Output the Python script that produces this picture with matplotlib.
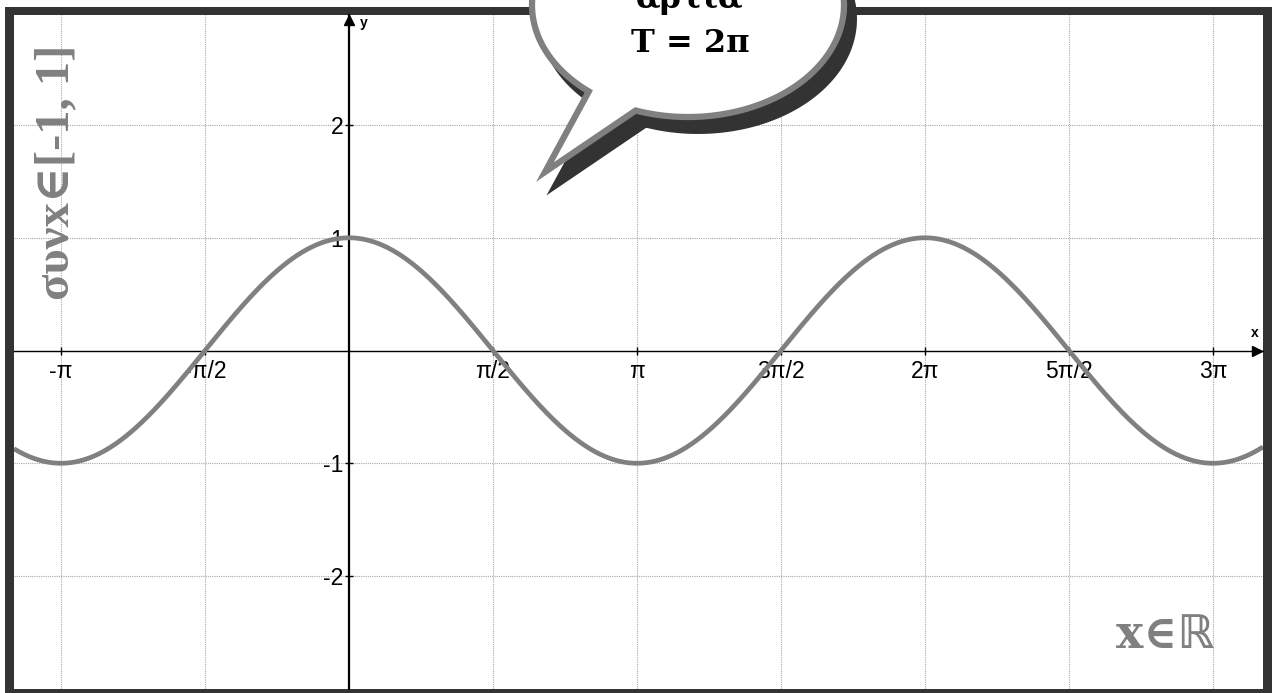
import numpy as np
import matplotlib
matplotlib.use("Agg")
import matplotlib.pyplot as plt
from matplotlib.patches import Rectangle, Polygon
from matplotlib.transforms import Affine2D

plt.rcParams['axes.unicode_minus'] = False

# window of the graph
x_left, x_right = -3.654, 9.970
y_bottom, y_top = -3.002, 2.976

x_ticks = [-np.pi, -np.pi/2, np.pi/2, np.pi, 3*np.pi/2, 2*np.pi, 5*np.pi/2, 3*np.pi]
x_tick_labels = ['-π', '-π/2', 'π/2', 'π', '3π/2', '2π', '5π/2', '3π']
x_grid = [k*np.pi/2 for k in range(-2, 7)]
y_ticks = [-2, -1, 1, 2]
y_tick_labels = ['-2', '-1', '1', '2']
y_grid = [-2, -1, 0, 1, 2]

bubble_lines = ['άρτια', 'T = 2π']
y_caption = 'συνx∈[-1, 1]'
x_caption = 'x∈ℝ'

W, H = 1272, 693
fig = plt.figure(figsize=(W/100, H/100), dpi=100)
fig.patch.set_facecolor('white')

# pixel coords, origin top-left
px = Affine2D().scale(0.01, -0.01).translate(0, H/100) + fig.dpi_scale_trans

# dark frame
frame = Rectangle((5, 7), 1267, 686, transform=px, facecolor='#333333',
                  edgecolor='none', zorder=-1)
fig.add_artist(frame)

ax = fig.add_axes([14/W, 4/H, 1249/W, 674/H])
ax.set_facecolor('white')
ax.set_xlim(x_left, x_right)
ax.set_ylim(y_bottom, y_top)

for s in ['top', 'right']:
    ax.spines[s].set_visible(False)
ax.spines['left'].set_position('zero')
ax.spines['bottom'].set_position('zero')
ax.spines['left'].set_linewidth(1.6)
ax.spines['bottom'].set_linewidth(1.0)

for gx in x_grid:
    ax.axvline(gx, color='#a8a8a8', lw=0.8, ls=(0, (1, 1)), zorder=0)
for gy in y_grid:
    ax.axhline(gy, color='#a8a8a8', lw=0.8, ls=(0, (1, 1)), zorder=0)

ax.set_xticks(x_ticks)
ax.set_xticklabels(x_tick_labels, fontfamily='Liberation Sans', fontsize=16.5)
ax.set_yticks(y_ticks)
ax.set_yticklabels(y_tick_labels, fontfamily='Liberation Sans', fontsize=16.5)
ax.tick_params(axis='x', direction='inout', length=6, width=1, pad=4)
ax.tick_params(axis='y', direction='inout', length=6, width=1, pad=1)

# cosine curve
x = np.linspace(x_left, x_right, 1000)
ax.plot(x, np.cos(x), color='#808080', lw=3.4, zorder=3, solid_capstyle='butt')

# axis arrows and names
ax.plot([0.9955], [0], marker='>', color='black', ms=7,
        transform=ax.get_yaxis_transform(), clip_on=False)
ax.plot([0], [0.992], marker='^', color='black', ms=7,
        transform=ax.get_xaxis_transform(), clip_on=False)
fig.text(1255, 333, 'x', transform=px, fontsize=10, fontfamily='Liberation Sans',
         fontweight='bold', ha='center', va='center')
fig.text(364, 23, 'y', transform=px, fontsize=10, fontfamily='Liberation Sans',
         fontweight='bold', ha='center', va='center')

# speech bubble
cx, cy, a, b = 688, 5, 156, 112
t = np.radians(np.linspace(129.5, 469.6, 300))
outline = np.column_stack([cx + a*np.cos(t), cy + b*np.sin(t)])
outline = np.vstack([outline, [[545, 172]]])
shadow = Polygon(outline + [10, 14], closed=True, transform=px,
                 facecolor='#333333', edgecolor='#333333', lw=4.3, zorder=5)
bubble = Polygon(outline, closed=True, transform=px, facecolor='white',
                 edgecolor='#808080', lw=4.5, joinstyle='miter', zorder=6)
fig.add_artist(shadow)
fig.add_artist(bubble)
fig.text(690, 8, bubble_lines[0], transform=px, fontsize=23,
         fontfamily='DejaVu Serif', fontweight='bold', ha='center',
         va='baseline', zorder=7)
fig.text(690, 52, bubble_lines[1], transform=px, fontsize=23,
         fontfamily='DejaVu Serif', fontweight='bold', ha='center',
         va='baseline', zorder=7)

# captions
fig.text(56, 172, y_caption, transform=px, rotation=90, fontsize=35,
         family=['Liberation Serif', 'DejaVu Serif'], fontweight='bold',
         color='#808080', ha='center', va='center', zorder=7)
fig.text(1165, 648, x_caption, transform=px, fontsize=33,
         family=['DejaVu Serif', 'DejaVu Sans'], fontweight='bold',
         color='#808080', ha='center', va='baseline', zorder=7)

fig.savefig('out.png', dpi=100)
